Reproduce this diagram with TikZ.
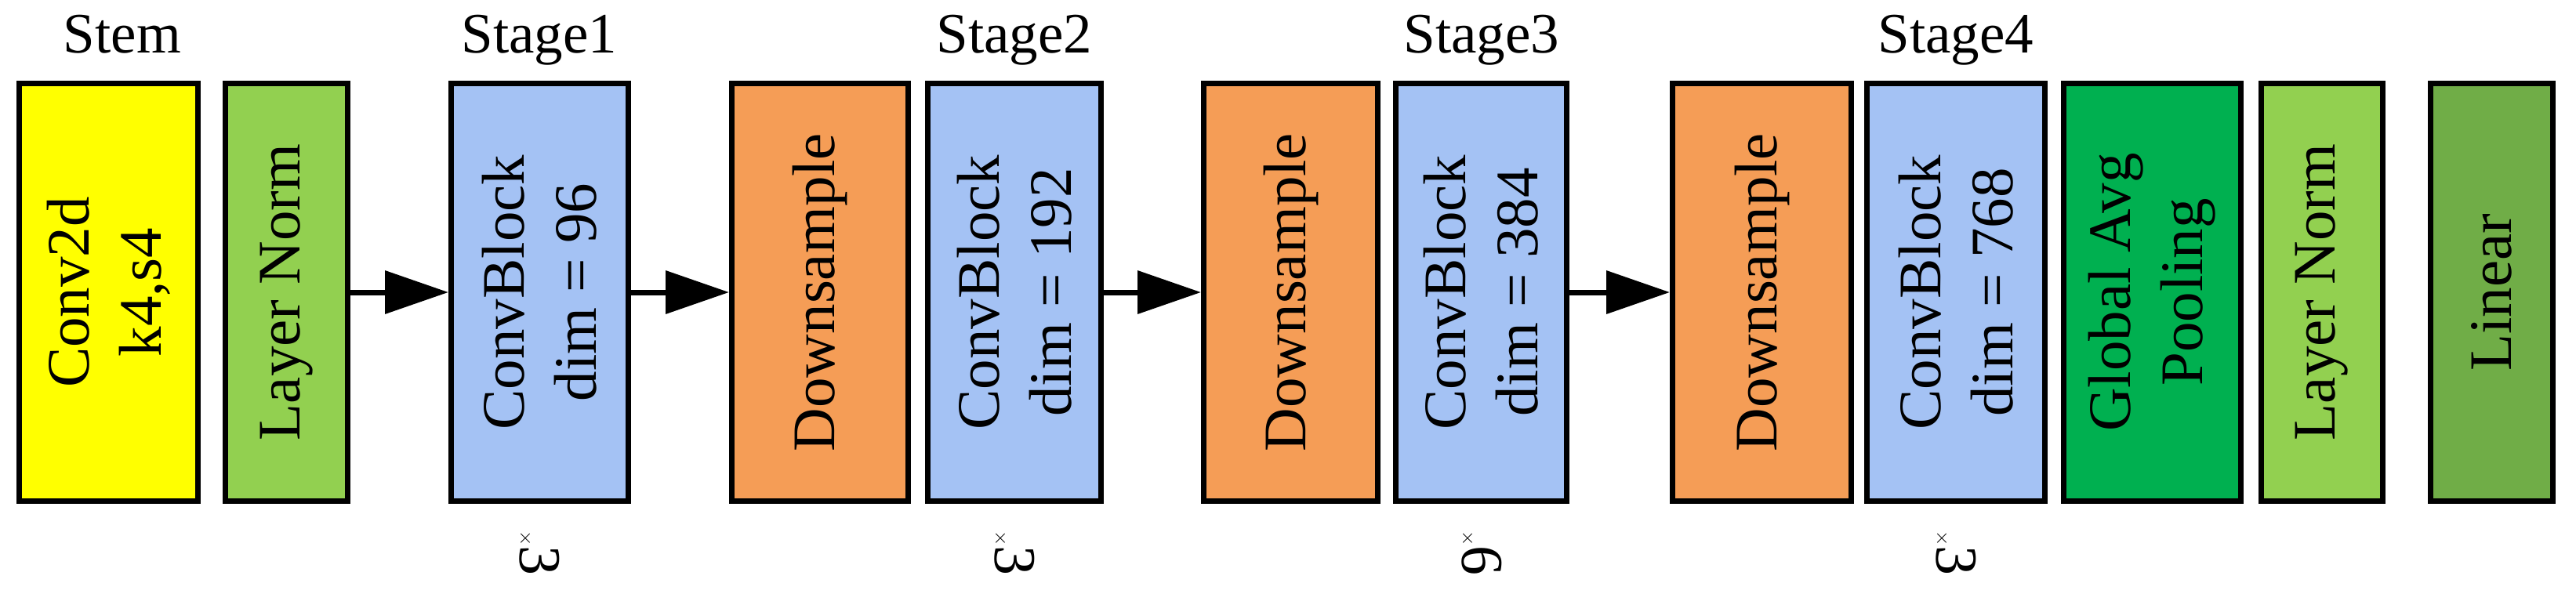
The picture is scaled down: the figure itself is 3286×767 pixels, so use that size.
\documentclass[tikz,border=0pt]{standalone}
\usepackage{fontspec}
\setmainfont{Liberation Serif}
\usetikzlibrary{arrows.meta}
\definecolor{cyel}{HTML}{FFFF00}
\definecolor{cln}{HTML}{92D050}
\definecolor{cblue}{HTML}{A4C2F4}
\definecolor{cor}{HTML}{F59D56}
\definecolor{cgap}{HTML}{00B050}
\definecolor{clin}{HTML}{70AD47}
\begin{document}
\begin{tikzpicture}[x=1pt,y=-1pt,
  box/.style={draw=black,line width=7pt,rotate=90,minimum width=533pt,align=center,inner sep=0pt,
    font=\fontsize{77}{92}\selectfont},
  ttl/.style={font=\fontsize{73}{80}\selectfont,inner sep=0pt},
  rep/.style={font=\fontsize{76}{80}\selectfont,rotate=-90,inner sep=0pt},
  arr/.style={line width=7pt,-{Triangle[length=81pt,width=54pt]}}]
\useasboundingbox (0,0) rectangle (3286,767);
\def\bx#1#2#3#4#5{\node[box,fill=#4,minimum height={#3-#2-7}] (#1) at ({(#2+#3)/2},373) {#5};}
\bx{stem}{21}{256}{cyel}{Conv2d\\k4,s4}
\bx{lna}{284}{447}{cln}{Layer Norm}
\bx{cba}{572}{805}{cblue}{ConvBlock\\dim = 96}
\bx{dsa}{930}{1162}{cor}{Downsample}
\bx{cbb}{1180}{1408}{cblue}{ConvBlock\\dim = 192}
\bx{dsb}{1532}{1761}{cor}{Downsample}
\bx{cbc}{1777}{2002}{cblue}{ConvBlock\\dim = 384}
\bx{dsc}{2130}{2365}{cor}{Downsample}
\bx{cbd}{2378}{2612}{cblue}{ConvBlock\\dim = 768}
\bx{gap}{2629}{2862}{cgap}{Global Avg\\Pooling}
\bx{lnb}{2881}{3043}{cln}{Layer Norm}
\bx{lin}{3097}{3260}{clin}{Linear}
\node[ttl,anchor=base] (t0) at (156,68) {Stem};
\node[ttl,anchor=base] (t1) at (688,68) {Stage1};
\node[ttl,anchor=base] (t2) at (1294,68) {Stage2};
\node[ttl,anchor=base] (t3) at (1890,68) {Stage3};
\node[ttl,anchor=base] (t4) at (2495,68) {Stage4};
\node[rep] (r1) at (688,706) {$\times$3};
\node[rep] (r2) at (1294,706) {$\times$3};
\node[rep] (r3) at (1890,706) {$\times$6};
\node[rep] (r4) at (2495,706) {$\times$3};
\draw[arr] (lna) -- (cba);
\draw[arr] (cba) -- (dsa);
\draw[arr] (cbb) -- (dsb);
\draw[arr] (cbc) -- (dsc);
\end{tikzpicture}
\end{document}
